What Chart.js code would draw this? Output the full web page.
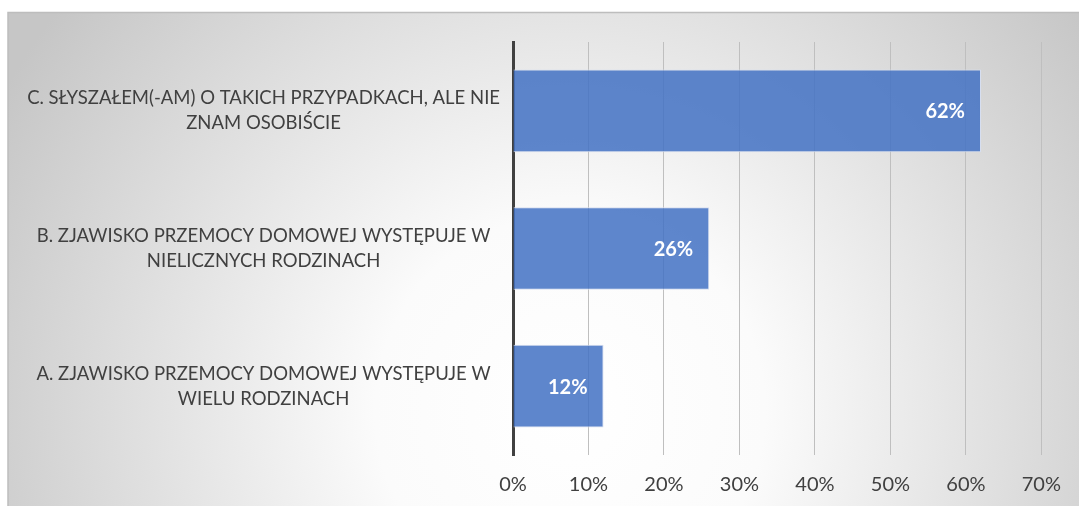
<!DOCTYPE html>
<html>
<head>
<meta charset="utf-8">
<script src="https://cdn.jsdelivr.net/npm/chart.js@4"></script>
<style>
  html, body { margin: 0; padding: 0; background: #fff; }
  #wrap { width: 1079px; height: 506px; }
</style>
</head>
<body>
<div id="wrap"><canvas id="chart"></canvas></div>
<script>
// ── Datos ──
const categorias = [
    ['C. SŁYSZAŁEM(-AM) O TAKICH PRZYPADKACH, ALE NIE', 'ZNAM OSOBIŚCIE'],
    ['B. ZJAWISKO PRZEMOCY DOMOWEJ WYSTĘPUJE W', 'NIELICZNYCH RODZINACH'],
    ['A. ZJAWISKO PRZEMOCY DOMOWEJ WYSTĘPUJE W', 'WIELU RODZINACH']
];
const valores = [62, 26, 12];
const ticksX = [0, 10, 20, 30, 40, 50, 60, 70];

const FUENTE = 'Lato, "Noto Sans", sans-serif';

// ── Fondo con degradado radial y marco ──
const fondoPlugin = {
    id: 'fondo',
    beforeDraw(chart) {
        const ctx = chart.ctx;
        const w = chart.width, h = chart.height;
        ctx.save();
        const g = ctx.createRadialGradient(570, 410, 0, 570, 410, 650);
        g.addColorStop(0, '#ffffff');
        g.addColorStop(0.3, '#fbfbfb');
        g.addColorStop(1, '#c6c6c6');
        ctx.fillStyle = g;
        ctx.fillRect(8, 12, w - 8, h - 12);
        ctx.strokeStyle = '#bdbdbd';
        ctx.lineWidth = 1.5;
        ctx.beginPath();
        ctx.moveTo(8, h);
        ctx.lineTo(8, 12.5);
        ctx.lineTo(w, 12.5);
        ctx.stroke();
        ctx.restore();
    }
};

// ── Etiquetas de valor dentro de la barra ──
const etiquetasPlugin = {
    id: 'etiquetas',
    afterDatasetsDraw(chart) {
        const ctx = chart.ctx;
        const meta = chart.getDatasetMeta(0);
        ctx.save();
        ctx.font = 'bold 20px ' + FUENTE;
        ctx.fillStyle = '#ffffff';
        ctx.textAlign = 'right';
        ctx.textBaseline = 'middle';
        meta.data.forEach((bar, i) => {
            ctx.fillText(valores[i] + '%', bar.x - 16, bar.y + 1);
        });
        ctx.restore();
    }
};

new Chart(document.getElementById('chart'), {
    type: 'bar',
    data: {
        labels: categorias,
        datasets: [{
            data: valores,
            backgroundColor: 'rgba(68,114,196,0.86)',
            borderColor: '#d6def0',
            borderWidth: 1,
            borderSkipped: 'left',
            barPercentage: 0.6,
            categoryPercentage: 1
        }]
    },
    options: {
        indexAxis: 'y',
        responsive: true,
        maintainAspectRatio: false,
        animation: false,
        layout: { padding: { top: 42, right: 36, bottom: 0, left: 8 } },
        plugins: {
            legend: { display: false },
            tooltip: { enabled: false }
        },
        scales: {
            x: {
                min: 0,
                max: 70,
                afterBuildTicks: axis => { axis.ticks = ticksX.map(v => ({ value: v })); },
                afterFit: axis => { axis.height = 51; },
                ticks: {
                    color: '#404040',
                    padding: 18,
                    font: { family: FUENTE, size: 20 },
                    callback: v => v + '%'
                },
                grid: { color: '#bfbfbf', lineWidth: 1, drawTicks: false },
                border: { display: false }
            },
            y: {
                afterFit: axis => { axis.width = 505; },
                ticks: {
                    color: '#404040',
                    crossAlign: 'center',
                    padding: 13,
                    font: { family: FUENTE, size: 18.5, lineHeight: 1.35 }
                },
                grid: { display: false, drawTicks: false },
                border: { display: true, color: '#404040', width: 3 }
            }
        }
    },
    plugins: [fondoPlugin, etiquetasPlugin]
});
</script>
</body>
</html>
